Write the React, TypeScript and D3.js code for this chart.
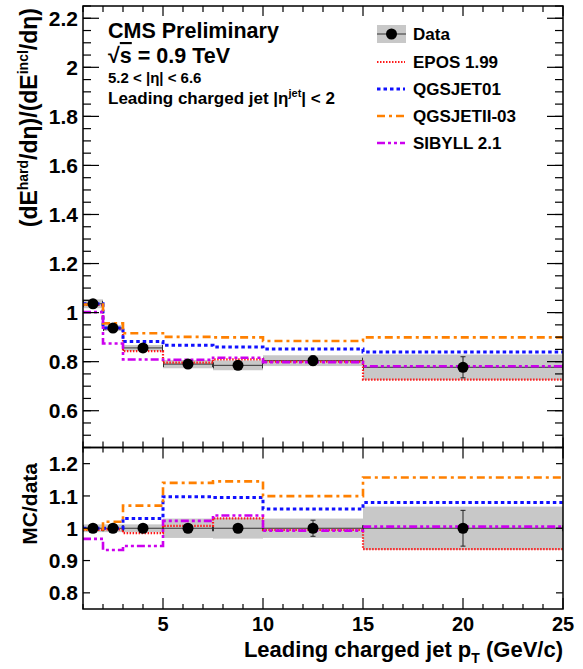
import React from "react";
import * as d3 from "d3";

const binEdges = [1, 2, 3, 5, 7.5, 10, 15, 25];
const pointX = [1.5, 2.5, 4, 6.25, 8.75, 12.5, 20];
const dataVal = [1.036, 0.937, 0.856, 0.79, 0.785, 0.804, 0.777];
const dataStat = [0.004, 0.004, 0.004, 0.004, 0.004, 0.02, 0.043];
const dataBand = [0.018, 0.012, 0.012, 0.017, 0.02, 0.022, 0.052];
const ratioBand = [0.012, 0.012, 0.012, 0.03, 0.032, 0.03, 0.067];

const eposVal = [1.031, 0.934, 0.843, 0.796, 0.809, 0.8, 0.727];
const qgsjet01Val = [1.036, 0.937, 0.882, 0.867, 0.86, 0.852, 0.839];
const qgsjet2Val = [1.033, 0.956, 0.916, 0.901, 0.899, 0.884, 0.899];
const sibyllVal = [1.002, 0.874, 0.809, 0.808, 0.816, 0.798, 0.781];

const xMajor = [5, 10, 15, 20, 25];
const xMinor = d3.range(1, 26, 1);
const topMajor = [0.6, 0.8, 1.0, 1.2, 1.4, 1.6, 1.8, 2.0, 2.2];
const topMajorLabels = ["0.6", "0.8", "1", "1.2", "1.4", "1.6", "1.8", "2", "2.2"];
const topMinor = d3.range(0.45, 2.2501, 0.05);
const botMajor = [0.8, 0.9, 1.0, 1.1, 1.2];
const botMajorLabels = ["0.8", "0.9", "1", "1.1", "1.2"];

const models = [
  { name: "EPOS 1.99", values: eposVal, color: "#ff1a1a", dash: "1.5 1.5", width: 2.2 },
  { name: "QGSJET01", values: qgsjet01Val, color: "#1010ff", dash: "3.5 3", width: 3 },
  { name: "QGSJETII-03", values: qgsjet2Val, color: "#ff8000", dash: "8 4 3 4", width: 2.6 },
  { name: "SIBYLL 2.1", values: sibyllVal, color: "#cc00ee", dash: "8 3 3 3 3 3", width: 2.6 },
];

const FONT = "'Liberation Sans', Arial, Helvetica, sans-serif";

export default function App() {
  const L = 83, R = 563;
  const topT = 6, topB = 447.5, botB = 609;
  const x = d3.scaleLinear().domain([1, 25]).range([L, R]);
  const yT = d3.scaleLinear().domain([0.45, 2.25]).range([topB, topT]);
  const yB = d3.scaleLinear().domain([0.75, 1.25]).range([botB, topB]);

  const stepPath = (vals: number[], y: d3.ScaleLinear<number, number>) => {
    const pts: [number, number][] = binEdges.map((e, i) => [e, vals[Math.min(i, vals.length - 1)]]);
    return d3.line<[number, number]>().x(d => x(d[0])).y(d => y(d[1])).curve(d3.curveStepAfter)(pts) || "";
  };

  const ratioVals = (vals: number[]) => vals.map((v, i) => v / dataVal[i]);
  const ratioStat = dataStat.map((s, i) => s / dataVal[i]);

  const panel = (
    y: d3.ScaleLinear<number, number>,
    vals: number[],
    band: number[],
    stat: number[],
    modelVals: number[][],
    key: string
  ) => (
    <g key={key}>
      {band.map((b, i) => (
        <rect key={"b" + i} x={x(binEdges[i])} width={x(binEdges[i + 1]) - x(binEdges[i])}
          y={y(vals[i] + b)} height={y(vals[i] - b) - y(vals[i] + b)} fill="#c8c8c8" />
      ))}
      {vals.map((v, i) => (
        <g key={"d" + i} stroke="#333" strokeWidth={1}>
          <line x1={x(binEdges[i])} x2={x(binEdges[i + 1])} y1={y(v)} y2={y(v)} />
          <line x1={x(binEdges[i]) + 0.5} x2={x(binEdges[i]) + 0.5} y1={y(v) - 3} y2={y(v) + 3} />
          <line x1={x(binEdges[i + 1]) - 0.5} x2={x(binEdges[i + 1]) - 0.5} y1={y(v) - 3} y2={y(v) + 3} />
        </g>
      ))}
      {models.map((m, k) => (
        <path key={m.name} d={stepPath(modelVals[k], y)} fill="none" stroke={m.color}
          strokeWidth={m.width} strokeDasharray={m.dash} />
      ))}
      {vals.map((v, i) => (
        <g key={"e" + i} stroke="#222" strokeWidth={1}>
          <line x1={x(pointX[i])} x2={x(pointX[i])} y1={y(v + stat[i])} y2={y(v - stat[i])} />
          <line x1={x(pointX[i]) - 2.5} x2={x(pointX[i]) + 2.5} y1={y(v + stat[i])} y2={y(v + stat[i])} />
          <line x1={x(pointX[i]) - 2.5} x2={x(pointX[i]) + 2.5} y1={y(v - stat[i])} y2={y(v - stat[i])} />
        </g>
      ))}
      {vals.map((v, i) => (
        <circle key={"c" + i} cx={x(pointX[i])} cy={y(v)} r={5.5} fill="#000" />
      ))}
    </g>
  );

  const ticks = (
    y: d3.ScaleLinear<number, number>,
    t: number, b: number,
    yMaj: number[], yMin: number[], yMajLen: number, yMinLen: number,
    xMajLen: number, xMinLen: number, key: string
  ) => (
    <g key={key} stroke="#000" strokeWidth={1.2}>
      {xMinor.map(v => {
        const len = xMajor.includes(v) ? xMajLen : xMinLen;
        return (
          <g key={"x" + v}>
            <line x1={x(v)} x2={x(v)} y1={b} y2={b - len} />
            <line x1={x(v)} x2={x(v)} y1={t} y2={t + len} />
          </g>
        );
      })}
      {yMin.map((v, i) => (
        <g key={"ym" + i}>
          <line x1={L} x2={L + yMinLen} y1={y(v)} y2={y(v)} />
          <line x1={R} x2={R - yMinLen} y1={y(v)} y2={y(v)} />
        </g>
      ))}
      {yMaj.map((v, i) => (
        <g key={"yM" + i}>
          <line x1={L} x2={L + yMajLen} y1={y(v)} y2={y(v)} />
          <line x1={R} x2={R - yMajLen} y1={y(v)} y2={y(v)} />
        </g>
      ))}
    </g>
  );

  const legY = [34, 62, 89, 116, 143];

  return (
    <svg width={583} height={669} style={{ position: "absolute", left: 0, top: 0, background: "#fff" }}
      fontFamily={FONT} fontWeight="bold">
      <rect x={0} y={0} width={583} height={669} fill="#fff" />
      {panel(yT, dataVal, dataBand, dataStat, models.map(m => m.values), "top")}
      {panel(yB, dataVal.map(() => 1), ratioBand, ratioStat, models.map(m => ratioVals(m.values)), "bot")}

      {ticks(yT, topT, topB, topMajor, topMinor, 16, 8, 10, 6, "tt")}
      {ticks(yB, topB, botB, botMajor, [], 7, 0, 11, 5, "bt")}
      <rect x={L} y={topT} width={R - L} height={topB - topT} fill="none" stroke="#000" strokeWidth={1.5} />
      <rect x={L} y={topB} width={R - L} height={botB - topB} fill="none" stroke="#000" strokeWidth={1.5} />

      {topMajor.map((v, i) => (
        <text key={"tl" + i} x={78} y={yT(v)} dy="0.36em" textAnchor="end" fontSize={21}>{topMajorLabels[i]}</text>
      ))}
      {botMajor.map((v, i) => (
        <text key={"bl" + i} x={78} y={yB(v)} dy="0.36em" textAnchor="end" fontSize={21}>{botMajorLabels[i]}</text>
      ))}
      {xMajor.map(v => (
        <text key={"xl" + v} x={x(v)} y={631} textAnchor="middle" fontSize={20}>{v}</text>
      ))}

      <text x={563} y={657} textAnchor="end" fontSize={22}>
        Leading charged jet p<tspan fontSize={14} dy={6}>T</tspan><tspan dy={-6}> (GeV/c)</tspan>
      </text>
      <text transform="translate(37,8) rotate(-90)" textAnchor="end" fontSize={23}>
        (dE<tspan fontSize={14} dy={-9}>hard</tspan><tspan dy={9}>/dη)/(dE</tspan><tspan fontSize={14} dy={-9}>incl</tspan><tspan dy={9}>/dη)</tspan>
      </text>
      <text transform="translate(37,463) rotate(-90)" textAnchor="end" fontSize={21}>MC/data</text>

      <text x={108} y={38} fontSize={21.5}>CMS Preliminary</text>
      <text x={108} y={63} fontSize={21.5}>√<tspan style={{ textDecoration: "overline" }}>s</tspan> = 0.9 TeV</text>
      <text x={108} y={83} fontSize={15}>5.2 &lt; |η| &lt; 6.6</text>
      <text x={108} y={104} fontSize={17}>Leading charged jet |η<tspan fontSize={11} dy={-7}>jet</tspan><tspan dy={7}>| &lt; 2</tspan></text>

      <rect x={377} y={25} width={29} height={18} fill="#c8c8c8" />
      <line x1={377} x2={406} y1={34} y2={34} stroke="#333" strokeWidth={1} />
      <circle cx={391.5} cy={34} r={5.5} fill="#000" />
      <text x={413} y={34} dy="0.36em" fontSize={17}>Data</text>
      {models.map((m, i) => (
        <g key={"leg" + i}>
          <line x1={377} x2={405} y1={legY[i + 1]} y2={legY[i + 1]} stroke={m.color}
            strokeWidth={m.width} strokeDasharray={m.dash} />
          <text x={413} y={legY[i + 1]} dy="0.36em" fontSize={17}>{m.name}</text>
        </g>
      ))}
    </svg>
  );
}
